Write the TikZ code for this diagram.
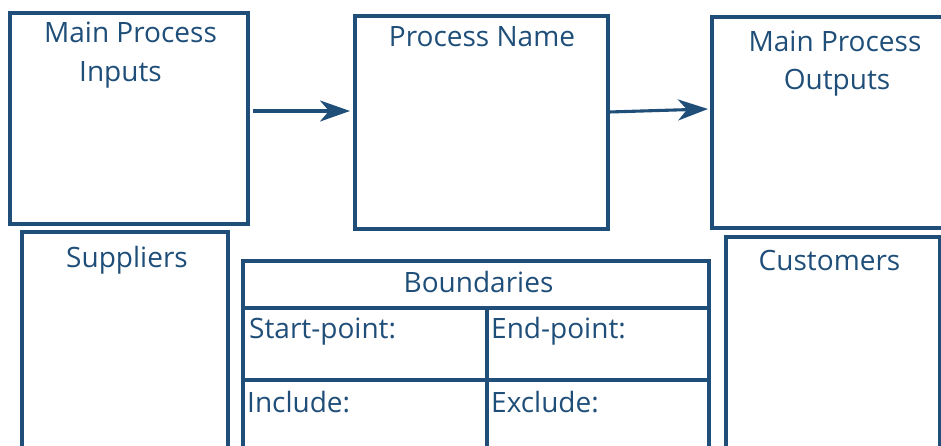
\documentclass[tikz,border=0pt]{standalone}
\usepackage{fontspec}
\setmainfont{Open Sans}
\usetikzlibrary{arrows.meta}
\definecolor{pblue}{HTML}{1F4E79}
\begin{document}
\begin{tikzpicture}[x=1pt,y=-1pt,
  box/.style={draw=pblue, line width=3.1pt, inner sep=0pt, outer sep=0pt, anchor=north west},
  lbl/.style={text=pblue, font=\fontsize{28}{36}\selectfont, inner sep=0pt, anchor=base},
  lbll/.style={lbl, anchor=base west},
  flow/.style={draw=pblue, line width=3.1pt, -{Stealth[length=30pt,width=21pt,inset=9pt]}}]
\useasboundingbox (0,0) rectangle (941,446);
\clip (0,0) rectangle (941,446);
% top row
\node[box, minimum width=238pt, minimum height=211pt] (inbox) at (10,13) {};
\node[box, minimum width=253pt, minimum height=213pt] (proc) at (355,16) {};
\node[box, minimum width=250pt, minimum height=211pt] (outbox) at (712,17) {};
% bottom row
\node[box, minimum width=206pt, minimum height=240pt] (supp) at (22,232) {};
\node[box, minimum width=466pt, minimum height=47pt] (bhead) at (243,261) {};
\node[box, minimum width=244pt, minimum height=72pt] (bstart) at (243,308) {};
\node[box, minimum width=222pt, minimum height=72pt] (bend) at (487,308) {};
\node[box, minimum width=244pt, minimum height=100pt] (binc) at (243,380) {};
\node[box, minimum width=222pt, minimum height=100pt] (bexc) at (487,380) {};
\node[box, minimum width=214pt, minimum height=240pt] (cust) at (726,237) {};
% texts
\node[lbl] (t1a) at (130.5,43) {Main Process};
\node[lbl] (t1b) at (120.5,82) {Inputs};
\node[lbl] (t2) at (482,47) {Process Name};
\node[lbl] (t3a) at (835,52) {Main Process};
\node[lbl] (t3b) at (837,90) {Outputs};
\node[lbl] (t4) at (127,267) {Suppliers};
\node[lbl] (t5) at (478.5,292) {Boundaries};
\node[lbl] (t6) at (829.5,270) {Customers};
\node[lbll] (t7) at (249,338) {Start-point:};
\node[lbll] (t8) at (247,412) {Include:};
\node[lbll] (t9) at (491,338) {End-point:};
\node[lbll] (t10) at (491,412) {Exclude:};
% arrows
\draw[flow] ([shift={(5,-7.5)}]inbox.east) -- ([shift={(-5,-11.5)}]proc.west);
\draw[flow] ([shift={(1,-10.5)}]proc.east) -- ([shift={(-4,-13.5)}]outbox.west);
\end{tikzpicture}
\end{document}
